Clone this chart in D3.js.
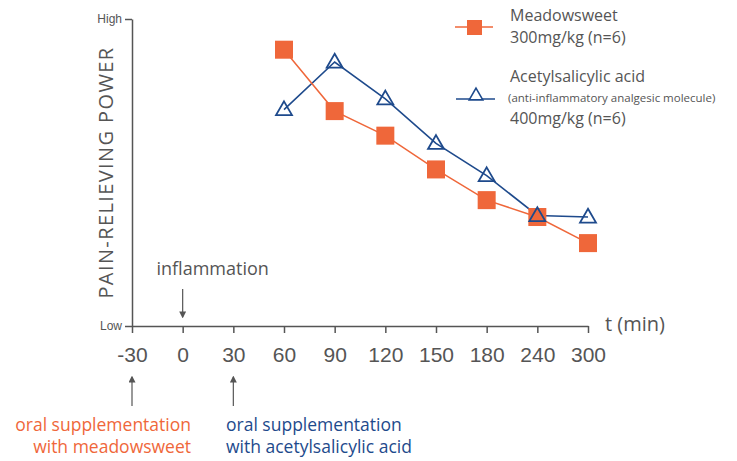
<!DOCTYPE html>
<html>
<head>
<meta charset="utf-8">
<script src="https://cdn.jsdelivr.net/npm/d3@7"></script>
<style>
  body { margin: 0; background: #fff; }
  svg { font-family: "Open Sans", sans-serif; }
</style>
</head>
<body>
<div id="chart"></div>
<script>
// time points (min), evenly spaced on the axis
const times = ["-30", "0", "30", "60", "90", "120", "150", "180", "240", "300"];
const seriesTimes = ["60", "90", "120", "150", "180", "240", "300"];
// pain-relieving power, 0 = Low, 100 = High
const meadowsweet = [90, 70, 62, 51, 41, 35.5, 27];
const aspirin = [70.5, 86, 74, 59.5, 49, 36, 35.5];
const yTicks = [0, 100];
const yTickLabels = ["Low", "High"];

const width = 737, height = 461;
const orange = "#ef673a";
const blue = "#1e4a8c";
const grey = "#555";

const svg = d3.select("#chart").append("svg")
  .attr("width", width)
  .attr("height", height);

const x = d3.scalePoint().domain(times).range([132, 588]);
const y = d3.scaleLinear().domain([0, 100]).range([326, 19]);

// axes
const xAxis = svg.append("g")
  .attr("transform", `translate(0,${y(0)})`)
  .call(d3.axisBottom(x).tickSize(7).tickSizeOuter(0).tickPadding(14));
xAxis.select(".domain").attr("stroke", grey).attr("stroke-width", 1.5);
xAxis.selectAll(".tick line").attr("stroke", grey).attr("stroke-width", 1.5);
xAxis.selectAll(".tick text")
  .attr("fill", grey)
  .style("font-size", "21px");

const yAxis = svg.append("g")
  .attr("transform", `translate(${x("-30")},0)`)
  .call(d3.axisLeft(y).tickValues(yTicks)
    .tickFormat((d, i) => yTickLabels[i])
    .tickSize(7).tickSizeOuter(0).tickPadding(3));
yAxis.select(".domain").attr("stroke", grey).attr("stroke-width", 1.5);
yAxis.selectAll(".tick line").attr("stroke", grey).attr("stroke-width", 1.5);
yAxis.selectAll(".tick text").attr("fill", grey).style("font-size", "12px");

svg.append("text")
  .attr("transform", `translate(113,${(y(0) + y(100)) / 2}) rotate(-90)`)
  .attr("text-anchor", "middle")
  .attr("fill", grey)
  .style("font-size", "20px")
  .style("letter-spacing", "1.4px")
  .text("PAIN-RELIEVING POWER");

svg.append("text")
  .attr("x", 605).attr("y", 331)
  .attr("fill", grey)
  .style("font-size", "20px")
  .text("t (min)");

// arrow marker
svg.append("defs").append("marker")
  .attr("id", "arrow")
  .attr("viewBox", "0 0 10 10")
  .attr("refX", 8).attr("refY", 5)
  .attr("markerWidth", 7).attr("markerHeight", 7)
  .attr("markerUnits", "userSpaceOnUse")
  .attr("orient", "auto")
  .append("path").attr("d", "M0,0L10,5L0,10Z").attr("fill", grey);

function arrow(xv, y1, y2) {
  svg.append("line")
    .attr("x1", x(xv)).attr("x2", x(xv))
    .attr("y1", y1).attr("y2", y2)
    .attr("stroke", grey).attr("stroke-width", 1.2)
    .attr("marker-end", "url(#arrow)");
}

arrow("0", 289, 317);
svg.append("text")
  .attr("x", x("0") + 30).attr("y", 275)
  .attr("text-anchor", "middle")
  .attr("fill", grey)
  .style("font-size", "18px")
  .text("inflammation");

arrow("-30", 406, 377);
arrow("30", 406, 377);

function note(lines, xp, anchor, color) {
  lines.forEach((t, i) => {
    svg.append("text")
      .attr("x", xp).attr("y", 431 + i * 22)
      .attr("text-anchor", anchor).attr("fill", color)
      .style("font-size", "17.5px")
      .text(t);
  });
}
note(["oral supplementation", "with meadowsweet"], 191, "end", orange);
note(["oral supplementation", "with acetylsalicylic acid"], 226, "start", blue);

// series
const line = d3.line().x(d => x(d[0])).y(d => y(d[1]));
const msData = seriesTimes.map((t, i) => [t, meadowsweet[i]]);
const asData = seriesTimes.map((t, i) => [t, aspirin[i]]);

const tri = d3.symbol().type(d3.symbolTriangle).size(110);

svg.append("path").datum(asData)
  .attr("d", line).attr("fill", "none")
  .attr("stroke", blue).attr("stroke-width", 1.6);

svg.append("path").datum(msData)
  .attr("d", line).attr("fill", "none")
  .attr("stroke", orange).attr("stroke-width", 1.5);

svg.selectAll(".sq").data(msData).join("rect")
  .attr("class", "sq")
  .attr("x", d => x(d[0]) - 9).attr("y", d => y(d[1]) - 9)
  .attr("width", 18).attr("height", 18)
  .attr("fill", orange);

svg.selectAll(".tri").data(asData).join("path")
  .attr("class", "tri")
  .attr("transform", d => `translate(${x(d[0])},${y(d[1]) + 1})`)
  .attr("d", tri)
  .attr("fill", "none")
  .attr("stroke", blue).attr("stroke-width", 1.8);

// legend
const lg = svg.append("g");
lg.append("line").attr("x1", 455).attr("x2", 493).attr("y1", 27).attr("y2", 27)
  .attr("stroke", orange).attr("stroke-width", 1.5);
lg.append("rect").attr("x", 467).attr("y", 20).attr("width", 15).attr("height", 15)
  .attr("fill", orange);
lg.append("text").attr("x", 510).attr("y", 21).attr("fill", grey)
  .style("font-size", "16px").text("Meadowsweet");
lg.append("text").attr("x", 510).attr("y", 43).attr("fill", grey)
  .style("font-size", "16px").text("300mg/kg (n=6)");

lg.append("line").attr("x1", 456).attr("x2", 495).attr("y1", 99).attr("y2", 99)
  .attr("stroke", blue).attr("stroke-width", 1.5);
lg.append("path").attr("transform", "translate(476,96)")
  .attr("d", d3.symbol().type(d3.symbolTriangle).size(80))
  .attr("fill", "#fff").attr("stroke", blue).attr("stroke-width", 1.6);
lg.append("text").attr("x", 510).attr("y", 82).attr("fill", grey)
  .style("font-size", "16px").text("Acetylsalicylic acid");
lg.append("text").attr("x", 508).attr("y", 102).attr("fill", grey)
  .style("font-size", "11.5px").text("(anti-inflammatory analgesic molecule)");
lg.append("text").attr("x", 510).attr("y", 124).attr("fill", grey)
  .style("font-size", "16px").text("400mg/kg (n=6)");
</script>
</body>
</html>
